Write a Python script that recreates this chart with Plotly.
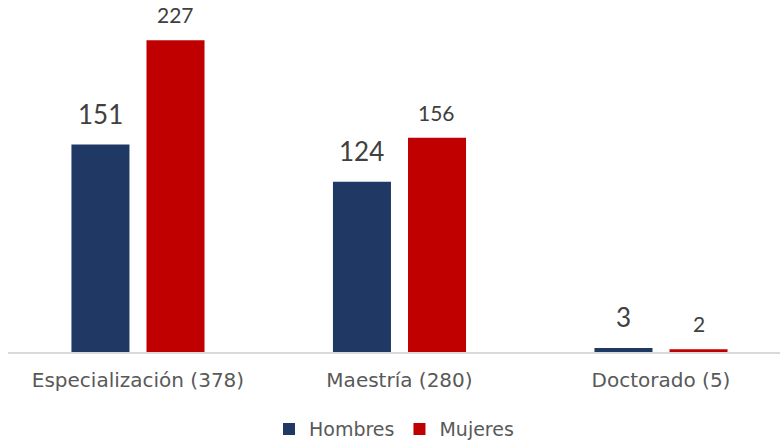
import plotly.graph_objects as go

categories = ["Especialización (378)", "Maestría (280)", "Doctorado (5)"]
hombres = [151, 124, 3]
mujeres = [227, 156, 2]

BLUE = "#1F3864"
RED = "#C00000"
TXT = "DejaVu Sans, Century Gothic, sans-serif"
NUM = "Lato, Century Gothic, sans-serif"

fig = go.Figure()
fig.add_trace(go.Bar(name="Hombres", x=categories, y=hombres, marker_color=BLUE,
                     marker_line_width=0))
fig.add_trace(go.Bar(name="Mujeres", x=categories, y=mujeres, marker_color=RED,
                     marker_line_width=0))

annotations = []
for c, v in zip(categories, hombres):
    annotations.append(dict(x=c, y=v, text=str(v), showarrow=False, xshift=-37.5,
                            yanchor="bottom", yshift=13,
                            font=dict(size=26, color="#404040", family=NUM)))
for c, v in zip(categories, mujeres):
    annotations.append(dict(x=c, y=v, text=str(v), showarrow=False, xshift=37.5,
                            yanchor="bottom", yshift=11,
                            font=dict(size=21, color="#404040", family=NUM)))

fig.update_layout(
    width=780, height=445,
    margin=dict(l=8, r=0, t=10, b=93, autoexpand=False),
    barmode="group", bargap=0.426, bargroupgap=0.227,
    plot_bgcolor="white", paper_bgcolor="white",
    font=dict(family=TXT, color="#595959", size=20),
    annotations=annotations,
    xaxis=dict(range=[-0.497, 2.455], showline=True, linecolor="#D9D9D9", linewidth=2,
               ticks="", tickfont=dict(size=20, color="#595959", family=TXT),
               ticklabelstandoff=9,
               showgrid=False, automargin=False),
    yaxis=dict(range=[0, 249], visible=False, showgrid=False, automargin=False),
    legend=dict(orientation="h", x=0.5, xanchor="center", y=-0.17, yanchor="top",
                font=dict(size=19, color="#595959", family=TXT), itemwidth=30,
                traceorder="normal"),
)

fig.write_html("out.html", config={"displayModeBar": False},
               post_script="document.body.style.margin='0';")
